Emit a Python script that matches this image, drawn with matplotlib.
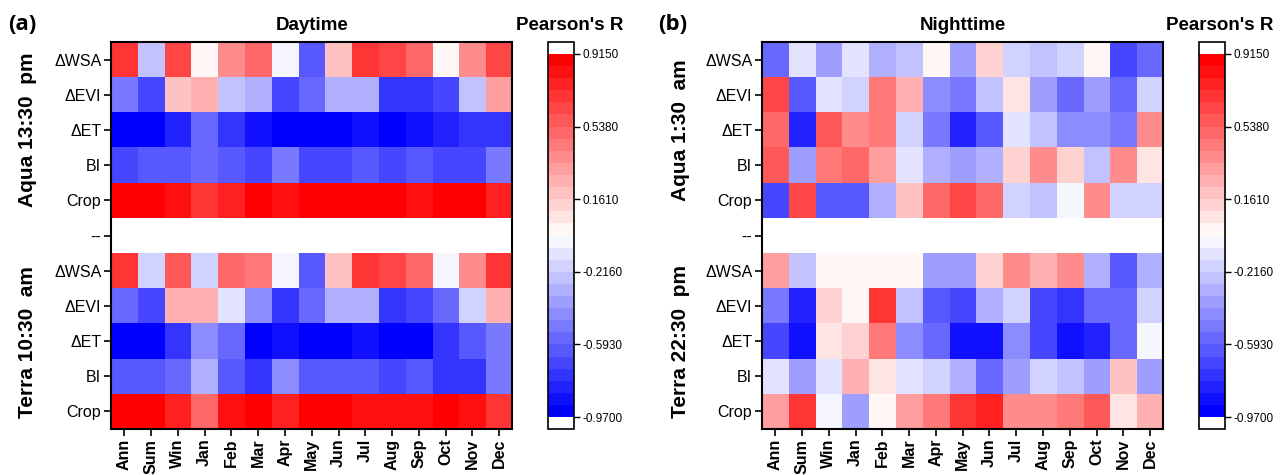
import numpy as np
import matplotlib
matplotlib.use("Agg")
import matplotlib.pyplot as plt
from matplotlib.colors import ListedColormap, BoundaryNorm

plt.rcParams['font.family'] = ['Liberation Sans', 'DejaVu Sans']

columns = ["Ann", "Sum", "Win", "Jan", "Feb", "Mar", "Apr", "May", "Jun",
           "Jul", "Aug", "Sep", "Oct", "Nov", "Dec"]
row_labels = ["ΔWSA", "ΔEVI", "ΔET", "BI", "Crop", "--",
              "ΔWSA", "ΔEVI", "ΔET", "BI", "Crop"]

# Daytime, Aqua 13:30 pm
day_aqua_wsa  = [0.69, -0.25, 0.63, 0.00, 0.38, 0.51, -0.06, -0.62, 0.19, 0.69, 0.63, 0.51, 0.00, 0.35, 0.63]
day_aqua_evi  = [-0.50, -0.69, 0.19, 0.26, -0.25, -0.31, -0.69, -0.56, -0.31, -0.31, -0.76, -0.76, -0.69, -0.25, 0.32]
day_aqua_et   = [-0.94, -0.94, -0.81, -0.56, -0.76, -0.88, -0.94, -0.94, -0.94, -0.88, -0.94, -0.88, -0.81, -0.76, -0.76]
day_aqua_bi   = [-0.69, -0.62, -0.62, -0.56, -0.62, -0.69, -0.50, -0.69, -0.69, -0.62, -0.69, -0.62, -0.69, -0.69, -0.50]
day_aqua_crop = [0.88, 0.88, 0.82, 0.69, 0.76, 0.88, 0.82, 0.88, 0.88, 0.88, 0.88, 0.82, 0.88, 0.88, 0.76]
# Daytime, Terra 10:30 am
day_terra_wsa  = [0.69, -0.19, 0.57, -0.19, 0.51, 0.44, -0.06, -0.62, 0.19, 0.69, 0.63, 0.51, -0.06, 0.38, 0.69]
day_terra_evi  = [-0.56, -0.69, 0.26, 0.26, -0.12, -0.44, -0.76, -0.56, -0.31, -0.31, -0.76, -0.69, -0.56, -0.19, 0.26]
day_terra_et   = [-0.94, -0.94, -0.76, -0.44, -0.56, -0.94, -0.88, -0.94, -0.94, -0.88, -0.94, -0.94, -0.76, -0.62, -0.50]
day_terra_bi   = [-0.62, -0.62, -0.56, -0.31, -0.62, -0.76, -0.44, -0.62, -0.62, -0.62, -0.69, -0.62, -0.76, -0.76, -0.50]
day_terra_crop = [0.88, 0.88, 0.76, 0.51, 0.82, 0.88, 0.76, 0.88, 0.88, 0.82, 0.82, 0.82, 0.88, 0.82, 0.69]

# Nighttime, Aqua 1:30 am
night_aqua_wsa  = [-0.56, -0.12, -0.37, -0.12, -0.31, -0.25, 0.00, -0.40, 0.13, -0.19, -0.25, -0.19, 0.00, -0.69, -0.56]
night_aqua_evi  = [0.63, -0.62, -0.12, -0.19, 0.47, 0.26, -0.44, -0.50, -0.25, 0.07, -0.40, -0.56, -0.37, -0.56, -0.19]
night_aqua_et   = [0.51, -0.81, 0.57, 0.38, 0.47, -0.19, -0.50, -0.81, -0.62, -0.12, -0.25, -0.44, -0.44, -0.50, 0.35]
night_aqua_bi   = [0.57, -0.40, 0.47, 0.51, 0.32, -0.12, -0.31, -0.40, -0.31, 0.13, 0.38, 0.13, -0.25, 0.38, 0.07]
night_aqua_crop = [-0.69, 0.63, -0.62, -0.62, -0.31, 0.19, 0.51, 0.63, 0.51, -0.19, -0.25, -0.06, 0.35, -0.19, -0.19]
# Nighttime, Terra 22:30 pm
night_terra_wsa  = [0.32, -0.25, 0.00, 0.00, 0.00, 0.00, -0.37, -0.37, 0.13, 0.38, 0.26, 0.35, -0.31, -0.62, -0.31]
night_terra_evi  = [-0.50, -0.81, 0.13, 0.00, 0.69, -0.25, -0.62, -0.69, -0.31, -0.19, -0.69, -0.76, -0.56, -0.56, -0.19]
night_terra_et   = [-0.69, -0.88, 0.07, 0.13, 0.47, -0.44, -0.56, -0.88, -0.88, -0.44, -0.69, -0.88, -0.81, -0.56, -0.06]
night_terra_bi   = [-0.12, -0.40, -0.12, 0.26, 0.07, -0.12, -0.19, -0.31, -0.56, -0.40, -0.19, -0.25, -0.37, 0.19, -0.40]
night_terra_crop = [0.32, 0.69, -0.06, -0.37, 0.00, 0.32, 0.44, 0.69, 0.76, 0.35, 0.38, 0.44, 0.57, 0.07, 0.26]

gap_row = [np.nan] * len(columns)

day = np.array([day_aqua_wsa, day_aqua_evi, day_aqua_et, day_aqua_bi, day_aqua_crop, gap_row,
                day_terra_wsa, day_terra_evi, day_terra_et, day_terra_bi, day_terra_crop], dtype=float)
night = np.array([night_aqua_wsa, night_aqua_evi, night_aqua_et, night_aqua_bi, night_aqua_crop, gap_row,
                  night_terra_wsa, night_terra_evi, night_terra_et, night_terra_bi, night_terra_crop], dtype=float)

cbar_ticks = [-0.9700, -0.5930, -0.2160, 0.1610, 0.5380, 0.9150]

# Discrete blue-white-red colormap, 30 bands
bounds = np.linspace(-0.97, 0.915, 31)
cmap = ListedColormap(plt.get_cmap('bwr')(np.linspace(0, 1, 30)))
cmap.set_bad('white')
cmap.set_over('white')
cmap.set_under('white')
norm = BoundaryNorm(bounds, cmap.N)

fig = plt.figure(figsize=(12.88, 4.75), dpi=100)

panels = [
    dict(data=night, left=0.5916, cleft=0.9309, title="Nighttime", tag="(b)", tagx=658/1288,
         groups=["Aqua 1:30  am", "Terra 22:30  pm"], gx=680/1288, px=1220/1288),
    dict(data=day, left=0.0862, cleft=0.4255, title="Daytime", tag="(a)", tagx=8/1288,
         groups=["Aqua 13:30  pm", "Terra 10:30  am"], gx=28/1288, px=570/1288),
]

bottom = 1 - 429/475
height = (429 - 42)/475
title_y = 1 - 25/475

for p in panels:
    ax = fig.add_axes([p['left'], bottom, 0.3117, height])
    im = ax.imshow(p['data'], cmap=cmap, norm=norm, aspect='auto', interpolation='nearest')
    ax.set_xticks(range(len(columns)))
    ax.set_xticklabels(columns, rotation=90, fontweight='bold', fontsize=11.5)
    ax.set_yticks(range(len(row_labels)))
    ax.set_yticklabels(row_labels, fontsize=11.5)
    ax.tick_params(direction='out', length=5, width=1.2, pad=2)
    for s in ax.spines.values():
        s.set_linewidth(1.5)
    fig.text(p['left'] + 0.3117/2, title_y, p['title'], fontweight='bold', fontsize=13.5,
             ha='center', va='center')

    cax = fig.add_axes([p['cleft'], bottom, 0.0202, height])
    cb = fig.colorbar(im, cax=cax, extend='both', extendrect=True, extendfrac=0.033,
                      ticks=cbar_ticks)
    cb.ax.minorticks_off()
    cb.ax.set_yticklabels([f"{t:.4f}" for t in cbar_ticks], fontsize=8.5)
    cb.ax.tick_params(length=4, width=1, pad=2)
    cb.outline.set_linewidth(1.2)
    fig.text(p['px'], title_y, "Pearson's R", ha='center', va='center',
             fontsize=13.5, fontweight='bold')

    fig.text(p['tagx'], title_y, p['tag'], fontsize=16, fontweight='bold',
             family=['Open Sans', 'DejaVu Sans'], ha='left', va='center')
    fig.text(p['gx'], 1 - 130/475, p['groups'][0], rotation=90, fontsize=15,
             fontweight='bold', ha='center', va='center')
    fig.text(p['gx'], 1 - 342/475, p['groups'][1], rotation=90, fontsize=15,
             fontweight='bold', ha='center', va='center')

fig.savefig("out.png", dpi=100)
